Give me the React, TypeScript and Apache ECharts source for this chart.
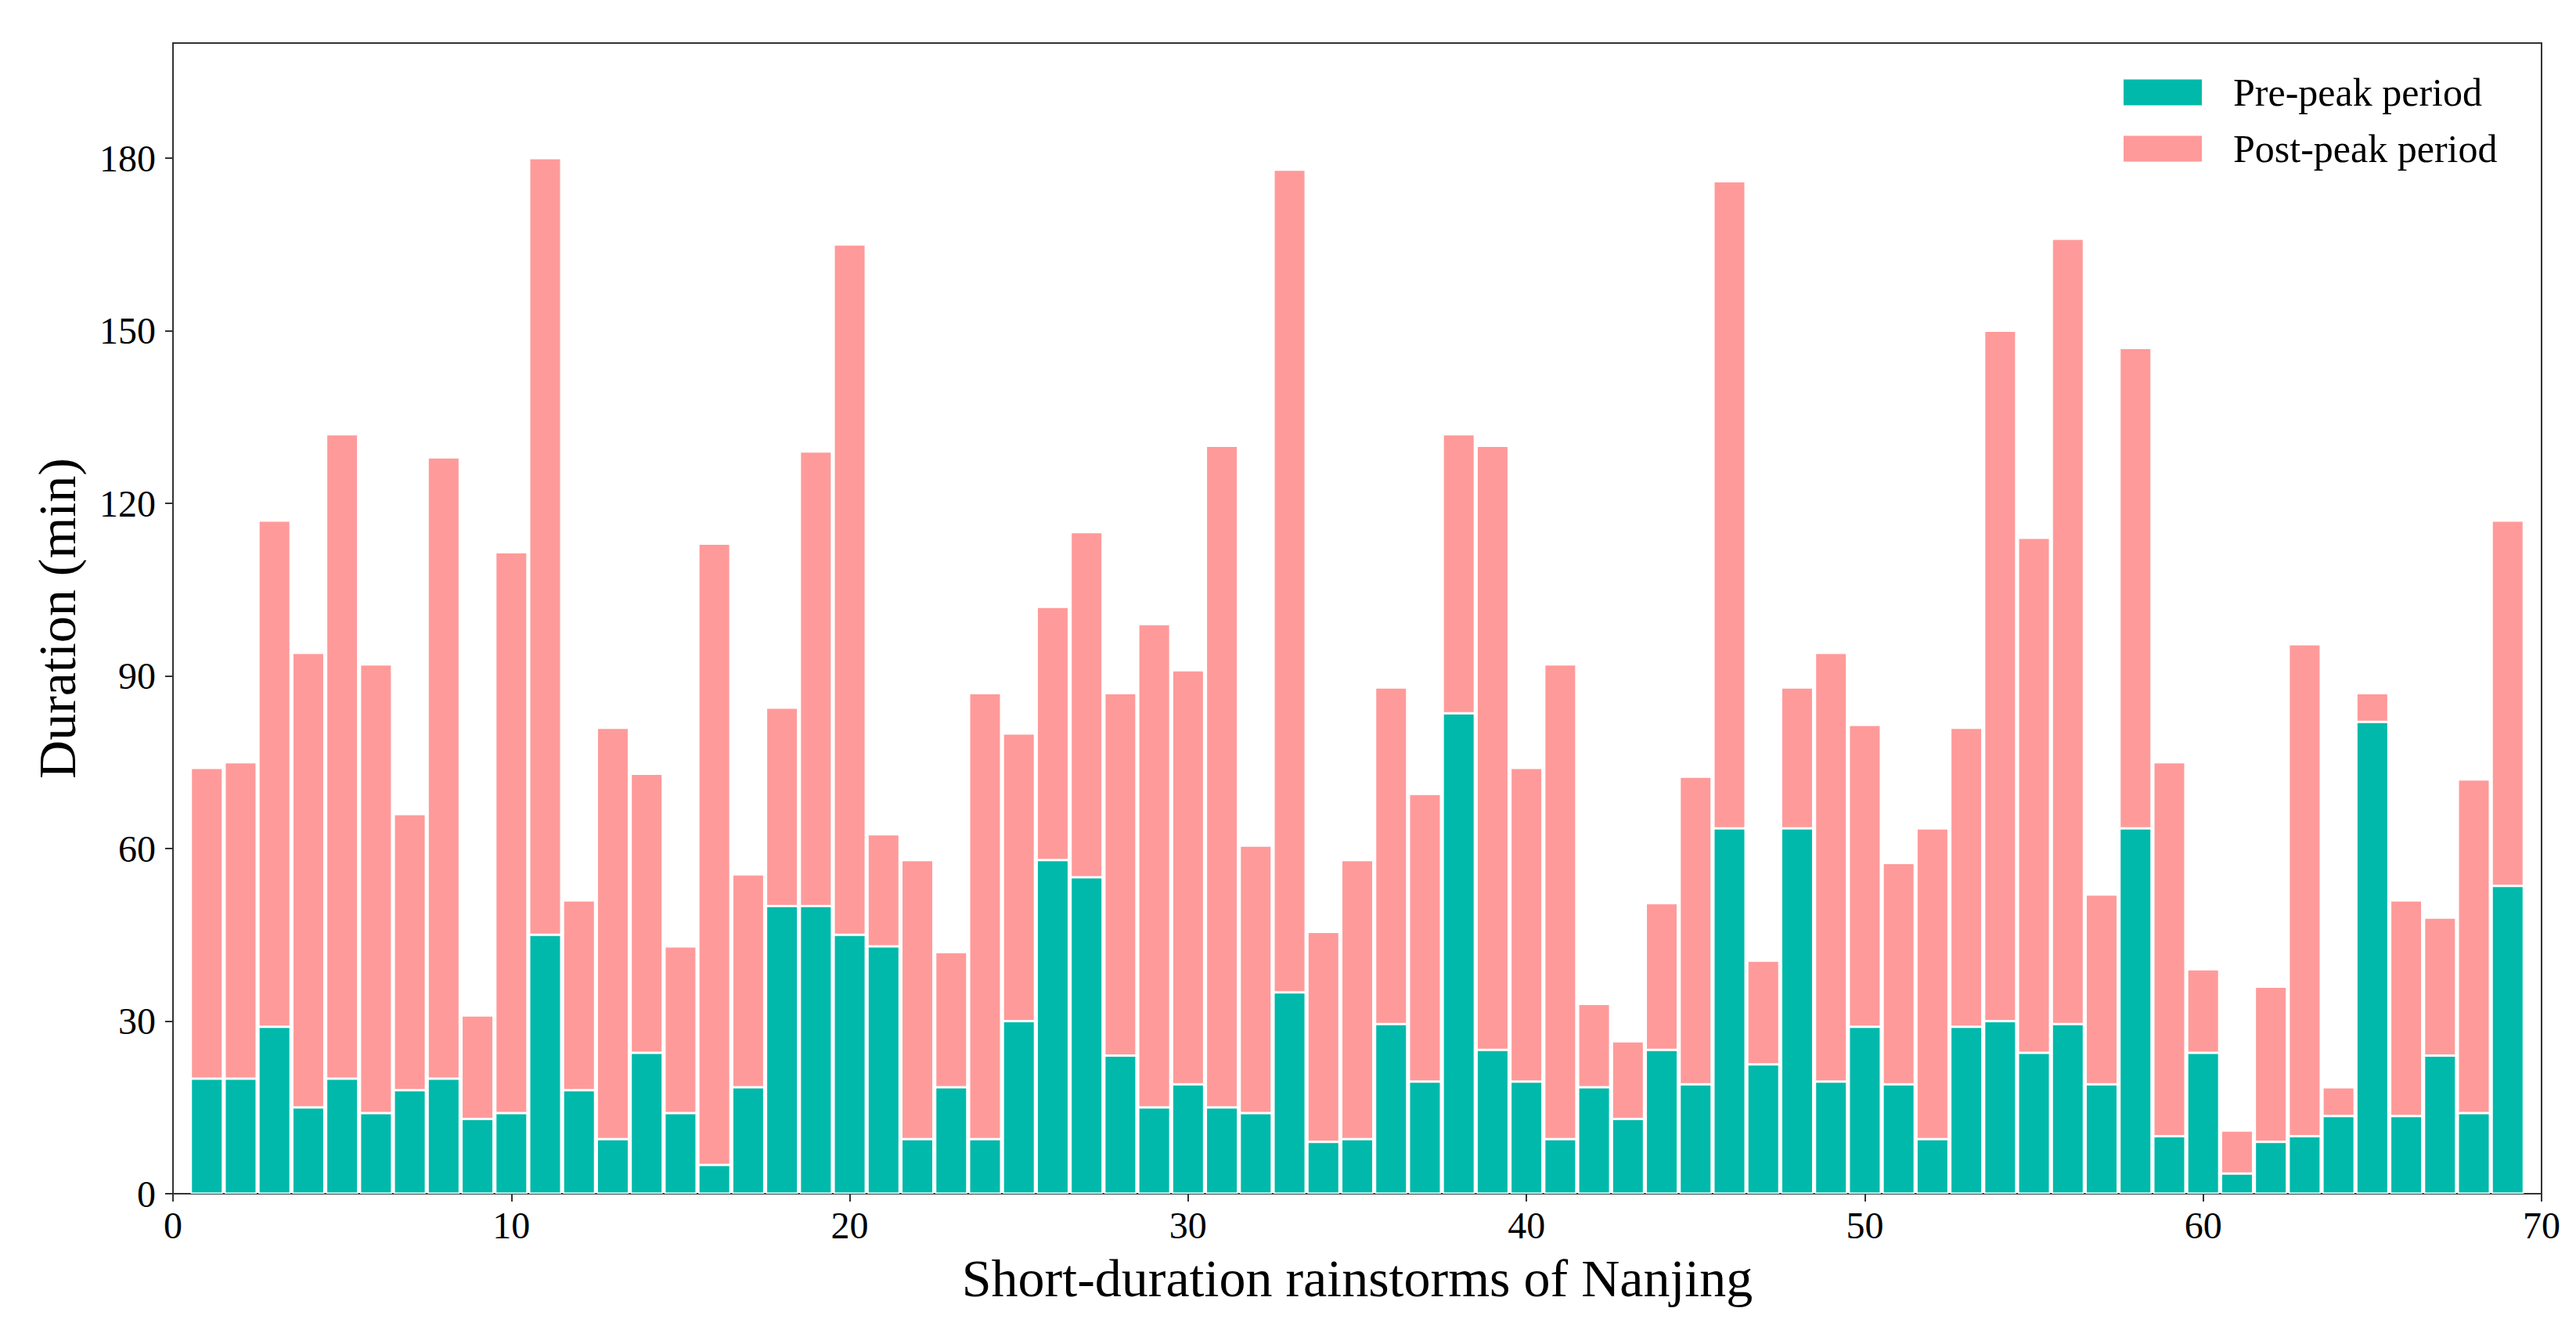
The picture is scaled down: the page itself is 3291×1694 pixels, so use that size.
import React, { useEffect, useRef } from "react";
import * as echarts from "echarts";

// x positions on the axis (0 … 70); storms are numbered 1 … 69
const xPositions = Array.from({ length: 71 }, (_, i) => String(i));

const prePeak = [
  20, 20, 29, 15, 20, 14, 18, 20, 13, 14,
  45, 18, 9.5, 24.5, 14, 5, 18.5, 50, 50, 45,
  43, 9.5, 18.5, 9.5, 30, 58, 55, 24, 15, 19,
  15, 14, 35, 9, 9.5, 29.5, 19.5, 83.5, 25, 19.5,
  9.5, 18.5, 13, 25, 19, 63.5, 22.5, 63.5, 19.5, 29,
  19, 9.5, 29, 30, 24.5, 29.5, 19, 63.5, 10, 24.5,
  3.5, 9, 10, 13.5, 82, 13.5, 24, 14, 53.5,
];

const postPeak = [
  54, 55, 88, 79, 112, 78, 48, 108, 18, 97.5,
  135, 33, 71.5, 48.5, 29, 108, 37, 34.5, 79, 120,
  19.5, 48.5, 23.5, 77.5, 50, 44, 60, 63, 84, 72,
  115, 46.5, 143, 36.5, 48.5, 58.5, 50, 48.5, 105, 54.5,
  82.5, 14.5, 13.5, 25.5, 53.5, 112.5, 18, 24.5, 74.5, 52.5,
  38.5, 54, 52, 120, 89.5, 136.5, 33, 83.5, 65, 14.5,
  7.5, 27, 85.5, 5, 5, 37.5, 24, 58, 63.5,
];

const yTicks = [0, 30, 60, 90, 120, 150, 180];
const xTickStep = 10;

const seriesNames = ["Pre-peak period", "Post-peak period"];
const colors = ["#00B9AA", "#FF9A9A"];

// pad storms 1..69 onto positions 0..70
const onAxis = (vals: number[]) => [null, ...vals, null];

export default function App() {
  const ref = useRef<HTMLDivElement>(null);

  useEffect(() => {
    if (!ref.current) return;
    const chart = echarts.init(ref.current, undefined, { renderer: "svg" });
    const font = "Liberation Serif";
    const showEvery = (idx: number) => idx % xTickStep === 0;
    chart.setOption({
      animation: false,
      backgroundColor: "#ffffff",
      textStyle: { fontFamily: font },
      grid: {
        left: 221,
        right: 44,
        top: 55,
        bottom: 169,
        show: true,
        borderColor: "#333333",
        borderWidth: 2,
        backgroundColor: "transparent",
      },
      legend: {
        left: 2706,
        top: 88,
        orient: "vertical",
        itemWidth: 102,
        itemHeight: 35,
        itemGap: 22,
        icon: "rect",
        textStyle: { fontFamily: font, fontSize: 50, color: "#000", padding: [0, 0, 0, 34] },
        data: seriesNames,
      },
      xAxis: {
        type: "category",
        boundaryGap: false,
        data: xPositions,
        name: "Short-duration rainstorms of Nanjing",
        nameLocation: "middle",
        nameGap: 74,
        nameTextStyle: { fontFamily: font, fontSize: 68, color: "#000", verticalAlign: "top" },
        splitLine: { show: false },
        axisLine: { show: true, onZero: false, lineStyle: { color: "#333333", width: 2 } },
        axisTick: { show: true, length: 10, interval: showEvery, lineStyle: { color: "#333333", width: 2 } },
        axisLabel: { fontFamily: font, fontSize: 48, color: "#000", margin: 16, interval: showEvery },
      },
      yAxis: {
        type: "value",
        min: 0,
        max: 200,
        name: "Duration (min)",
        nameLocation: "middle",
        nameGap: 114,
        nameTextStyle: { fontFamily: font, fontSize: 68, color: "#000" },
        splitLine: { show: false },
        axisLine: { show: true, lineStyle: { color: "#333333", width: 2 } },
        axisTick: { show: true, length: 10, lineStyle: { color: "#333333", width: 2 }, customValues: yTicks },
        axisLabel: { fontFamily: font, fontSize: 48, color: "#000", margin: 22, customValues: yTicks },
      },
      series: [
        {
          name: seriesNames[0],
          type: "bar",
          stack: "total",
          barWidth: 41,
          itemStyle: { color: colors[0], borderColor: "#ffffff", borderWidth: 1.5 },
          data: onAxis(prePeak),
        },
        {
          name: seriesNames[1],
          type: "bar",
          stack: "total",
          barWidth: 41,
          itemStyle: { color: colors[1], borderColor: "#ffffff", borderWidth: 1.5 },
          data: onAxis(postPeak),
        },
      ],
    });
    return () => chart.dispose();
  }, []);

  return (
    <div
      ref={ref}
      style={{ position: "fixed", left: 0, top: 0, width: 3291, height: 1694, background: "#fff" }}
    />
  );
}
